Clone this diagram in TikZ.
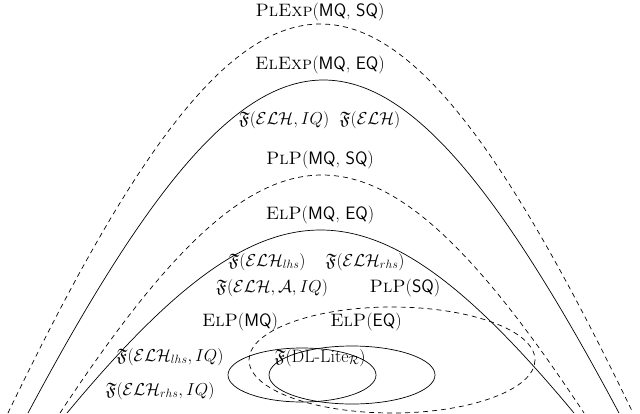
\documentclass[tikz,border=0pt]{standalone}
\usepackage{amssymb}
\begin{document}
\begin{tikzpicture}[x=1pt,y=-1pt,
  lab/.style={inner sep=0pt,font=\fontsize{18}{21}\selectfont},
  ds/.style={dashed,dash pattern=on 5pt off 4pt,line width=0.7pt},
  sl/.style={line width=0.7pt}]
\useasboundingbox (0,0) rectangle (640,413);
\begin{scope}
\clip (0,0) rectangle (640,413);
\draw[ds] (8,413) .. controls (258,413-4/3*389) and (383,413-4/3*389) .. (633,413);
\draw[sl] (28,413) .. controls (265,413-4/3*333) and (382,413-4/3*333) .. (619,413);
\draw[ds] (60,413) .. controls (270,413-4/3*238) and (374,413-4/3*238) .. (584,413);
\draw[sl] (67,413) .. controls (270,413-4/3*183) and (371,413-4/3*183) .. (574,413);
\draw[ds] (392,360) ellipse [x radius=143, y radius=53];
\end{scope}
\draw[sl] (302,375) ellipse [x radius=74, y radius=27];
\draw[sl] (352,375) ellipse [x radius=83, y radius=29];
\node[lab] (a) at (320,12) {\textsc{PlExp}(\textsf{MQ}, \textsf{SQ})};
\node[lab] (b) at (320,65) {\textsc{ElExp}(\textsf{MQ}, \textsf{EQ})};
\node[lab] (c) at (284,120) {$\mathfrak{F}(\mathcal{ELH}, IQ)$};
\node[lab] (d) at (370,120) {$\mathfrak{F}(\mathcal{ELH})$};
\node[lab] (e) at (320,160) {\textsc{PlP}(\textsf{MQ}, \textsf{SQ})};
\node[lab] (f) at (320,215) {\textsc{ElP}(\textsf{MQ}, \textsf{EQ})};
\node[lab] (g) at (267,262) {$\mathfrak{F}(\mathcal{ELH}_{lhs})$};
\node[lab] (h) at (365,262) {$\mathfrak{F}(\mathcal{ELH}_{rhs})$};
\node[lab] (i) at (272,288) {$\mathfrak{F}(\mathcal{ELH}, \mathcal{A}, IQ)$};
\node[lab] (j) at (405,288) {\textsc{PlP}(\textsf{SQ})};
\node[lab] (k) at (240,322) {\textsc{ElP}(\textsf{MQ})};
\node[lab] (l) at (366,322) {\textsc{ElP}(\textsf{EQ})};
\node[lab] (m) at (320,358) {$\mathfrak{F}(\mbox{DL-Lite}_{\mathcal{R}})$};
\node[lab] (n) at (170,357) {$\mathfrak{F}(\mathcal{ELH}_{lhs}, IQ)$};
\node[lab] (o) at (160,391) {$\mathfrak{F}(\mathcal{ELH}_{rhs}, IQ)$};
\end{tikzpicture}
\end{document}
